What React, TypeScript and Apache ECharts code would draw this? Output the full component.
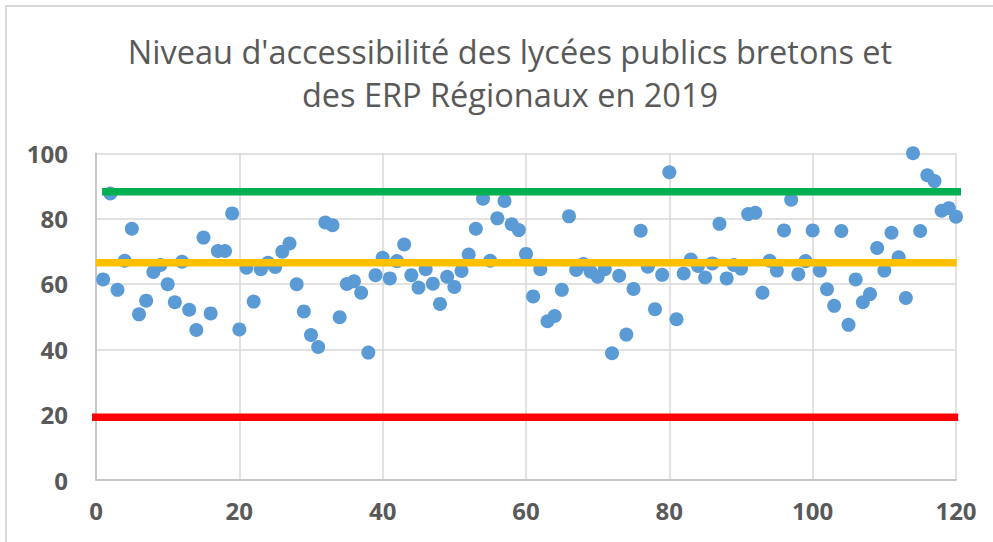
import React, { useEffect, useRef } from "react";
import * as echarts from "echarts";

const titleLines = ["Niveau d'accessibilité des lycées publics bretons et", "des ERP Régionaux en 2019"];

const scores = [
  61.4, 87.7, 58.2, 67.1, 76.9, 50.7, 54.9, 63.7, 65.8, 59.9,
  54.4, 66.8, 52.1, 45.9, 74.2, 51.0, 70.1, 70.1, 81.6, 46.1,
  65.0, 54.6, 64.5, 66.5, 65.2, 69.9, 72.4, 59.9, 51.6, 44.4,
  40.7, 78.8, 78.0, 49.8, 60.0, 60.8, 57.3, 39.0, 62.7, 68.0,
  61.7, 67.0, 72.1, 62.7, 58.9, 64.5, 60.1, 53.9, 62.2, 59.1,
  64.0, 69.0, 76.9, 86.1, 67.1, 80.1, 85.4, 78.3, 76.5, 69.2,
  56.2, 64.5, 48.6, 50.2, 58.2, 80.7, 64.3, 66.1, 63.8, 62.2,
  64.5, 38.8, 62.5, 44.5, 58.5, 76.3, 65.3, 52.3, 62.8, 94.2,
  49.2, 63.2, 67.5, 65.5, 62.0, 66.3, 78.4, 61.7, 65.8, 64.7,
  81.4, 81.8, 57.3, 67.1, 64.1, 76.4, 85.8, 63.0, 67.0, 76.4,
  64.1, 58.4, 53.3, 76.2, 47.5, 61.4, 54.4, 56.9, 71.0, 64.1,
  75.7, 68.2, 55.7, 100.0, 76.2, 93.3, 91.5, 82.4, 83.2, 80.6,
];

const levelNames = ["Vert", "Jaune", "Rouge"];
const levelValues = [88.2, 66.5, 19.2];
const levelStart = [0.85, 0, -0.6];
const levelEnd = [120.8, 120.1, 120.3];
const levelColors = ["#00B050", "#FFC000", "#FF0000"];

const xTicks = [0, 20, 40, 60, 80, 100, 120];
const yTicks = [0, 20, 40, 60, 80, 100];

export default function App() {
  const ref = useRef<HTMLDivElement>(null);
  useEffect(() => {
    if (!ref.current) return;
    const chart = echarts.init(ref.current, undefined, { renderer: "svg" });
    const points = scores.map((v, i) => [i + 1, v]);
    const lineSeries = levelNames.map((name, i) => ({
      name,
      type: "line",
      data: [
        [levelStart[i], levelValues[i]],
        [levelEnd[i], levelValues[i]],
      ],
      showSymbol: false,
      symbol: "none",
      clip: false,
      z: 5,
      lineStyle: { color: levelColors[i], width: 7.5, cap: "butt" },
    }));
    chart.setOption({
      animation: false,
      backgroundColor: "#ffffff",
      title: {
        text: titleLines.join("\n"),
        left: 505,
        textAlign: "center",
        top: 25,
        textStyle: {
          fontFamily: "Open Sans",
          fontWeight: "normal",
          fontSize: 32.5,
          color: "#595959",
          lineHeight: 43,
        },
      },
      graphic: [
        {
          type: "rect",
          shape: { x: 6, y: 6, width: 1000, height: 560 },
          style: { fill: "none", stroke: "#d9d9d9", lineWidth: 2 },
          silent: true,
        },
      ],
      grid: { left: 96, right: 37, top: 153.3, bottom: 62 },
      xAxis: {
        type: "value",
        min: xTicks[0],
        max: xTicks[xTicks.length - 1],
        interval: 20,
        axisLine: { show: true, lineStyle: { color: "#bfbfbf", width: 1.5 } },
        axisTick: { show: false },
        splitLine: { show: true, lineStyle: { color: "#d9d9d9", width: 1.5 } },
        axisLabel: {
          margin: 18,
          fontFamily: "Open Sans",
          fontWeight: "bold",
          fontSize: 24,
          color: "#595959",
        },
      },
      yAxis: {
        type: "value",
        min: yTicks[0],
        max: yTicks[yTicks.length - 1],
        interval: 20,
        axisLine: { show: true, lineStyle: { color: "#bfbfbf", width: 1.5 } },
        axisTick: { show: false },
        splitLine: { show: true, lineStyle: { color: "#d9d9d9", width: 1.5 } },
        axisLabel: {
          margin: 28,
          fontFamily: "Open Sans",
          fontWeight: "bold",
          fontSize: 24,
          color: "#595959",
        },
      },
      series: [
        {
          name: "Lycées",
          type: "scatter",
          data: points,
          symbol: "circle",
          symbolSize: 14,
          z: 2,
          itemStyle: { color: "#5B9BD5", opacity: 1 },
        },
        ...lineSeries,
      ],
    });
    return () => chart.dispose();
  }, []);
  return (
    <div
      ref={ref}
      style={{ position: "fixed", left: 0, top: 0, width: 993, height: 542 }}
    />
  );
}
